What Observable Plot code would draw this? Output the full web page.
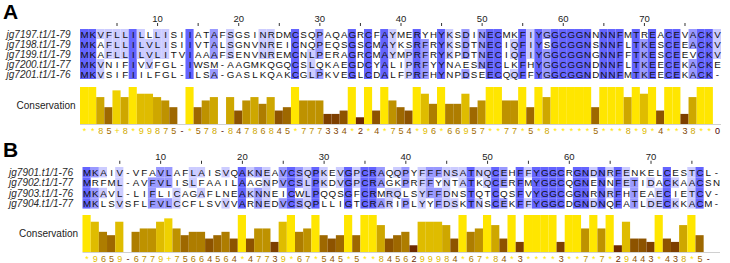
<!DOCTYPE html>
<html><head><meta charset="utf-8">
<script src="https://cdn.jsdelivr.net/npm/d3@7"></script>
<script src="https://cdn.jsdelivr.net/npm/@observablehq/plot@0.6"></script>
<style>
body{margin:0;background:#fff;}
#root{position:relative;width:730px;height:263px;overflow:hidden;font-family:"Liberation Sans",Arial,sans-serif;}
.letter{position:absolute;left:3px;font-weight:bold;font-size:21px;line-height:21px;color:#000;}
#root svg{position:absolute;left:0;}
</style></head><body><div id="root"></div>
<script>
// ---------- data ----------
const namesA = ["jg7197.t1/1-79","jg7198.t1/1-79","jg7199.t1/1-79","jg7200.t1/1-77","jg7201.t1/1-76"];
const seqsA = [
  "MKVFLLILLLISIIATAFSGSINRDMCSQPAQAGRCFAYMERYHYKSDINECMKFIYGGCGGNNNNFMTREACEVACKV",
  "MKAFLLILVLISIIVTALSGNVNREICNQPEQSGSCMAYKSRFRYKSDTNECIQFIYSGCGGNSNNFLTKESCEEACKV",
  "MKAFLLILVLITVIAAAFSENVNREMCNLPERAGRCMAYMPRFRYKPDTNECIQFIYGGCGGNGNNFFTKESCEEVCKV",
  "MKVNIFIVVFGL-IWSM-AAGMKQGQCSLQKAEGDCYALIPRFYYNAESNECLKFHYGGCGGNDNNFLTKEECEKACKE",
  "MKVSIFIILFGL-ILSA-GASLKQAKCGLPKVEGLCDALFPRFHYNPDSEECQQFFYGGCGGNDNNFMTKEECEKACK-"
];
const consA = "**85+8*99875-*578-84786845*777334*2*4*754*96*66957**77*5*8*****5***8*9*4**38**0";

const namesB = ["jg7901.t1/1-76","jg7902.t1/1-77","jg7903.t1/1-76","jg7904.t1/1-77"];
const seqsB = [
  "MKAIV-VFAVLAFLAISVQAKNEAVCSQPKEVGPCRAQQPYFFFNSATNQCEHFFYGGCRGNDNRFENKELCESTCL-",
  "MRFML-AVFVLISLFAAILAAGNPVCSLPKDVGPCRAGKPRFFYNTATKQCERFMYGGCQGNENNFETIDACKAACSN",
  "MKAVL-LIFLICAGAFLNEAKNNEICWLPQQSGFCRMRQLSYFFDNSTQTCQSFVYGGCGGNRNRFHTEAECIETCV-",
  "MKLSVSFLFVLCCFLSVVVARNEDVCSQPLLIGTCRARIPLYYFDSKTNSCEKFFYGGCDGNDNQFATLDECKKACM-"
];
const consB = "*9659-6779+75664564*47739*67*545*5**8456299984*67*84*3****3**7*7*29443*438*5-";

const rulerLabels = [10,20,30,40,50,60,70];
const rulerTicks = [5,10,15,20,25,30,35,40,45,50,55,60,65,70,75];

// ---------- helpers ----------
const pidColors = {1:"#ccccff", 2:"#9999ff", 3:"#6464ff"};
function pidCells(seqs){
  const n = seqs.length, L = seqs[0].length, cells = [];
  for (let j = 0; j < L; j++){
    const counts = {};
    for (const s of seqs){ const c = s[j]; if (c !== "-") counts[c] = (counts[c]||0) + 1; }
    const max = Math.max(0, ...Object.values(counts));
    const pid = max * 100 / n;
    seqs.forEach((s, i) => {
      const c = s[j];
      let level = 0;
      if (c !== "-" && counts[c] === max) level = pid > 80 ? 3 : pid > 60 ? 2 : pid > 40 ? 1 : 0;
      cells.push({row: i, col: j + 1, res: c, level});
    });
  }
  return cells;
}
function consValue(ch){ return ch === "*" ? 11 : ch === "+" ? 10 : ch === "-" ? 0 : +ch; }
function consColor(v){ const p = v / 11; return d3.rgb(255*(0.3+0.7*p), 255*0.9*p, 0).formatHex(); }
function consData(str){ return Array.from(str, (ch, i) => ({col: i + 1, sym: ch, v: consValue(ch)})); }

const font = '"Liberation Sans", Arial, sans-serif';
const root = document.getElementById("root");

function panel({letter, letterTop, names, seqs, cons, top, x0, x1, consTop, rowsTop, rowH}){
  const L = seqs[0].length, n = seqs.length;
  const lt = document.createElement("div");
  lt.className = "letter"; lt.style.top = letterTop + "px"; lt.textContent = letter;
  root.appendChild(lt);

  const cells = pidCells(seqs);
  const align = Plot.plot({
    width: 730, height: Math.ceil(rowsTop + n * rowH + 1),
    marginLeft: x0, marginRight: 730 - x1, marginTop: rowsTop, marginBottom: 1,
    style: {fontFamily: font, background: "transparent", overflow: "visible"},
    x: {domain: [0.5, L + 0.5], range: [x0, x1], axis: null},
    y: {domain: [0, n], range: [rowsTop, rowsTop + n * rowH], axis: null},
    marks: [
      Plot.rect(cells.filter(d => d.level > 0), {
        x1: d => d.col - 0.5, x2: d => d.col + 0.5, y1: d => d.row, y2: d => d.row + 1,
        fill: d => pidColors[d.level], inset: 0
      }),
      Plot.text(cells, {x: "col", y: d => d.row + 0.5, text: "res", fontSize: 9.8, fill: "#111"}),
      Plot.text(names, {y: (d, i) => i + 0.5, frameAnchor: "left", textAnchor: "end", dx: -10,
        fontSize: 10, fontStyle: "italic", fill: "#2a2a2a"}),
      Plot.ruleX(rulerTicks, {x: d => d, y1: -0.6, y2: -0.3, stroke: "#333", strokeWidth: 1}),
      Plot.text(rulerLabels, {x: d => d, y: -0.75, lineAnchor: "bottom", text: d => String(d), fontSize: 9.5, fill: "#222"})
    ]
  });
  align.style.top = top + "px";
  root.appendChild(align);

  const cd = consData(cons);
  const consPlot = Plot.plot({
    width: 730, height: 56,
    marginLeft: x0, marginRight: 730 - x1, marginTop: 8, marginBottom: 11,
    style: {fontFamily: font, background: "transparent", overflow: "visible"},
    x: {domain: [0.5, L + 0.5], range: [x0, x1], axis: null},
    y: {domain: [0, 11], axis: null},
    marks: [
      Plot.rectY(cd, {x1: d => d.col - 0.5, x2: d => d.col + 0.5, y1: 0, y2: "v", fill: d => consColor(d.v), inset: 0}),
      Plot.ruleY([0], {stroke: "#d0d0d0"}),
      Plot.text(cd, {x: "col", y: 0, text: "sym", dy: 3, lineAnchor: "top", fontSize: 9, fill: d => consColor(d.v)}),
      Plot.text(["Conservation"], {frameAnchor: "left", textAnchor: "end", dx: -5, fontSize: 10, fill: "#222"})
    ]
  });
  consPlot.style.top = consTop + "px";
  root.appendChild(consPlot);
}

panel({letter: "A", letterTop: 1, names: namesA, seqs: seqsA, cons: consA, top: 0, x0: 80, x1: 721, consTop: 79, rowsTop: 29, rowH: 10});
panel({letter: "B", letterTop: 139, names: namesB, seqs: seqsB, cons: consB, top: 139, x0: 82.5, x1: 720, consTop: 207, rowsTop: 28, rowH: 10.4});
</script></body></html>
